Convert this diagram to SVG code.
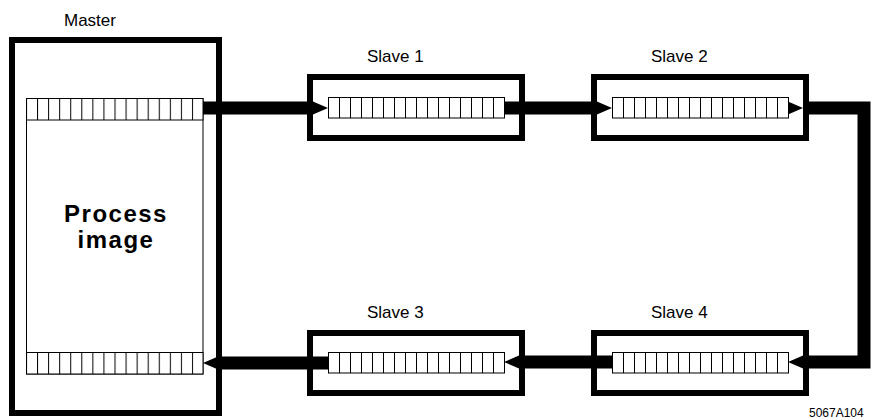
<svg xmlns="http://www.w3.org/2000/svg" width="876" height="419" viewBox="0 0 876 419">
<style>
.frame{fill:none;stroke:#000;stroke-width:6}
.lbl{font-family:"Liberation Sans",Arial,sans-serif;font-size:17px;fill:#000}
.big{font-family:"Liberation Sans",Arial,sans-serif;font-size:24px;font-weight:bold;letter-spacing:1.5px;fill:#000}
.bar{fill:none;stroke:#000;stroke-width:13;stroke-linejoin:miter}
.head{fill:#000}
</style>
<defs>
<pattern id="cellsM" x="26" y="0" width="11.0625" height="10" patternUnits="userSpaceOnUse">
<rect width="11.0625" height="10" fill="#fff"/>
<line x1="0.5" y1="0" x2="0.5" y2="10" stroke="#000" stroke-width="1"/>
</pattern>
<pattern id="cellsS1" x="328" y="0" width="11" height="10" patternUnits="userSpaceOnUse">
<rect width="11" height="10" fill="#fff"/>
<line x1="0.5" y1="0" x2="0.5" y2="10" stroke="#000" stroke-width="1"/>
</pattern>
<pattern id="cellsS2" x="612" y="0" width="11" height="10" patternUnits="userSpaceOnUse">
<rect width="11" height="10" fill="#fff"/>
<line x1="0.5" y1="0" x2="0.5" y2="10" stroke="#000" stroke-width="1"/>
</pattern>
</defs>
<rect width="876" height="419" fill="#fff"/>

<g id="master">
<text class="lbl" x="64" y="26">Master</text>
<rect class="frame" x="12" y="40" width="207" height="373"/>
<rect x="26.5" y="98.5" width="176.5" height="275.5" fill="#fff" stroke="#000" stroke-width="1"/>
<rect x="26.5" y="98.5" width="176.5" height="21.5" fill="url(#cellsM)" stroke="#000" stroke-width="1"/>
<rect x="26.5" y="352.5" width="176.5" height="21.5" fill="url(#cellsM)" stroke="#000" stroke-width="1"/>
<text class="big" x="116" y="222" text-anchor="middle">Process</text>
<text class="big" x="116" y="248" text-anchor="middle">image</text>
</g>

<g id="connectors">
<polygon class="head" points="203,101.5 313,101.5 328,108 313,114.5 203,114.5"/>
<polygon class="head" points="504,101.5 597,101.5 612,108 597,114.5 504,114.5"/>
<polygon class="head" points="788,101.5 803,108 788,114.5"/>
<path class="bar" d="M806,108 H864 V362 H803"/>
<polygon class="head" points="803,355.5 788,362 803,368.5"/>
<polygon class="head" points="612,355.5 519,355.5 504,362 519,368.5 612,368.5"/>
<polygon class="head" points="328,356.5 218,356.5 203,363 218,369.5 328,369.5"/>
</g>

<g id="slave1">
<text class="lbl" x="367" y="62">Slave 1</text>
<rect class="frame" x="310" y="77" width="212" height="61"/>
<rect x="328.5" y="97.5" width="176" height="20.5" fill="url(#cellsS1)" stroke="#000" stroke-width="1"/>
</g>
<g id="slave2">
<text class="lbl" x="651" y="62">Slave 2</text>
<rect class="frame" x="594" y="77" width="212" height="61"/>
<rect x="612.5" y="97.5" width="176" height="20.5" fill="url(#cellsS2)" stroke="#000" stroke-width="1"/>
</g>
<g id="slave3">
<text class="lbl" x="367" y="318">Slave 3</text>
<rect class="frame" x="310" y="333" width="212" height="60"/>
<rect x="328.5" y="352.5" width="176" height="20.5" fill="url(#cellsS1)" stroke="#000" stroke-width="1"/>
</g>
<g id="slave4">
<text class="lbl" x="651" y="318">Slave 4</text>
<rect class="frame" x="594" y="333" width="212" height="60"/>
<rect x="612.5" y="352.5" width="176" height="20.5" fill="url(#cellsS2)" stroke="#000" stroke-width="1"/>
</g>

<text x="809" y="417" font-family="'Liberation Sans',Arial,sans-serif" font-size="12">5067A104</text>
</svg>
